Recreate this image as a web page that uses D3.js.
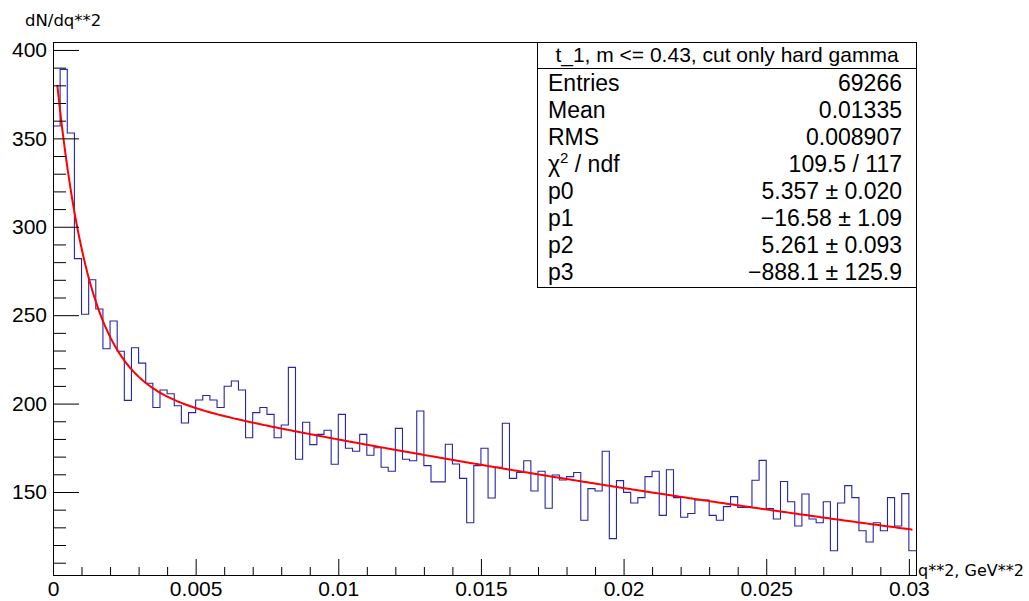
<!DOCTYPE html>
<html>
<head>
<meta charset="utf-8">
<script src="https://cdn.jsdelivr.net/npm/d3@7"></script>
<style>
  html, body { margin: 0; padding: 0; background: #fff; }
  svg { display: block; }
  text { font-family: "Liberation Sans", Arial, Helvetica, sans-serif; fill: #000; }
  .dj { font-family: "DejaVu Sans", sans-serif; }
</style>
</head>
<body>
<svg id="chart" width="1029" height="601"></svg>
<script>
// ---------------- data ----------------
const binCounts = [
  357, 389, 353, 282, 250.5, 270, 253.5, 231, 246.7, 229.6,
  201.8, 231.6, 222.9, 211.5, 197.8, 207.7, 205.6, 198.8, 189, 194.9,
  202, 204.6, 202, 197.8, 209.8, 212.8, 207.7, 180.7, 194.9, 197.8,
  193.9, 180.7, 187.9, 220.5, 168.5, 189.4, 176.8, 182.6, 184.9, 165.7,
  193.9, 174.7, 173, 182.6, 170.8, 175, 164, 161.7, 186, 168.5,
  167.7, 195.8, 164.9, 155.7, 155.7, 177, 165.8, 157.7, 132.6, 164.9,
  174.7, 146.6, 164, 188.9, 157.7, 161, 167.7, 150.6, 161.7, 140.8,
  159.6, 156.8, 158.7, 161, 134, 151.9, 150.6, 173, 123.6, 156.4,
  149.8, 143.8, 146.8, 158.7, 161.7, 136.8, 162.6, 146.8, 135.7, 137.8,
  145.5, 145.5, 136.8, 134, 141.7, 147.4, 141.3, 141.3, 156.6, 167.9,
  140.6, 134.7, 155.9, 144.5, 130.8, 148.9, 134.7, 132.6, 144.5, 116.8,
  143.8, 153.6, 146.8, 128.1, 121.7, 132.6, 128.1, 146.8, 130.8, 149.1,
  116.8
];
const binWidth = 0.00025;
const xDomain = [0, 0.03025];
const yDomain = [103.05, 404.5];
const xTickValues = [0, 0.005, 0.01, 0.015, 0.02, 0.025, 0.03];
const xTickLabels = ["0", "0.005", "0.01", "0.015", "0.02", "0.025", "0.03"];
const yTickValues = [150, 200, 250, 300, 350, 400];
const yTickLabels = ["150", "200", "250", "300", "350", "400"];
// fit: exp(p0 + p1*x) + exp(p2 + p3*x)
const fitParams = [5.357, -16.58, 5.261, -888.1];
const fitRange = [0.00015, 0.030125];
const statTitle = "t_1, m <= 0.43, cut only hard gamma";
const statLabels = ["Entries", "Mean", "RMS", "CHI", "p0", "p1", "p2", "p3"];
const statValues = ["69266", "0.01335", "0.008907", "109.5 / 117",
  "5.357 \u00b1 0.020", "\u221216.58 \u00b1 1.09", "5.261 \u00b1 0.093", "\u2212888.1 \u00b1 125.9"];
const xTitle = "q**2, GeV**2";
const yTitle = "dN/dq**2";

// ---------------- layout ----------------
const L = 53, R = 916, T = 42, B = 575;
const svg = d3.select("#chart");
const x = d3.scaleLinear().domain(xDomain).range([L, R]);
const y = d3.scaleLinear().domain(yDomain).range([B, T]);

// histogram staircase
const pts = binCounts.map((v, i) => [i * binWidth, v]);
pts.push([binCounts.length * binWidth, binCounts[binCounts.length - 1]]);
const stair = d3.line().x(d => x(d[0])).y(d => y(d[1])).curve(d3.curveStepAfter);
svg.append("path").attr("d", stair(pts))
  .attr("fill", "none").attr("stroke", "#2424b0").attr("stroke-width", 1.1);

// fit curve
const f = xx => Math.exp(fitParams[0] + fitParams[1] * xx) + Math.exp(fitParams[2] + fitParams[3] * xx);
const fitPts = d3.range(0, 401).map(k => { const xx = fitRange[0] + (fitRange[1] - fitRange[0]) * k / 400; return [xx, f(xx)]; });
svg.append("path").attr("d", d3.line().x(d => x(d[0])).y(d => y(d[1])).curve(d3.curveLinear)(fitPts))
  .attr("fill", "none").attr("stroke", "#ff0000").attr("stroke-width", 2);

// axes
const fontSize = 21;
const yMinor = d3.range(110, 401, 10).filter(v => !yTickValues.includes(v));
const xMinor = d3.range(1, 31).map(k => k * 0.001).filter(v => !xTickValues.some(t => Math.abs(t - v) < 1e-9));

const gy = svg.append("g").attr("transform", `translate(${L},0)`)
  .call(d3.axisLeft(y).tickValues(yTickValues).tickFormat((d, i) => yTickLabels[i]).tickSize(-26).tickPadding(6));
const gyMinor = svg.append("g").attr("transform", `translate(${L},0)`)
  .call(d3.axisLeft(y).tickValues(yMinor).tickFormat("").tickSize(-13));
const gx = svg.append("g").attr("transform", `translate(0,${B})`)
  .call(d3.axisBottom(x).tickValues(xTickValues).tickFormat((d, i) => xTickLabels[i]).tickSize(-16).tickPadding(6));
const gxMinor = svg.append("g").attr("transform", `translate(0,${B})`)
  .call(d3.axisBottom(x).tickValues(xMinor).tickFormat("").tickSize(-8));
[gy, gyMinor, gx, gxMinor].forEach(g => {
  g.select(".domain").remove();
  g.selectAll("line").attr("stroke", "#000");
  g.selectAll("text").attr("font-size", fontSize).attr("font-family", "Liberation Sans, Arial, sans-serif").attr("fill", "#000");
});

// frame
svg.append("rect").attr("x", L + 0.5).attr("y", T + 0.5).attr("width", R - L).attr("height", B - T)
  .attr("fill", "none").attr("stroke", "#000").attr("stroke-width", 1);

// axis titles
svg.append("text").attr("class", "dj").attr("x", 25).attr("y", 26).attr("font-size", 16.5).text(yTitle);
svg.append("text").attr("class", "dj").attr("x", 918).attr("y", 576).attr("font-size", 16).text(xTitle);

// stats box
const bx = 537.5, by = 42.5, bw = 379, bh = 245;
const statFont = 23;
svg.append("rect").attr("x", bx).attr("y", by).attr("width", bw).attr("height", bh)
  .attr("fill", "#fff").attr("stroke", "#000").attr("stroke-width", 1);
svg.append("line").attr("x1", bx).attr("x2", bx + bw).attr("y1", 68.5).attr("y2", 68.5).attr("stroke", "#000");
svg.append("text").attr("x", bx + bw / 2).attr("y", 62).attr("text-anchor", "middle").attr("font-size", 21).text(statTitle);
const rowY = i => 91 + i * 27;
statLabels.forEach((lab, i) => {
  const t = svg.append("text").attr("x", 548).attr("y", rowY(i)).attr("font-size", statFont);
  if (lab === "CHI") {
    t.append("tspan").text("\u03c7");
    t.append("tspan").attr("font-size", 15).attr("dy", -9).text("2");
    t.append("tspan").attr("dy", 9).text(" / ndf");
  } else {
    t.text(lab);
  }
  svg.append("text").attr("x", 902).attr("y", rowY(i)).attr("text-anchor", "end").attr("font-size", statFont).text(statValues[i]);
});
</script>
</body>
</html>
